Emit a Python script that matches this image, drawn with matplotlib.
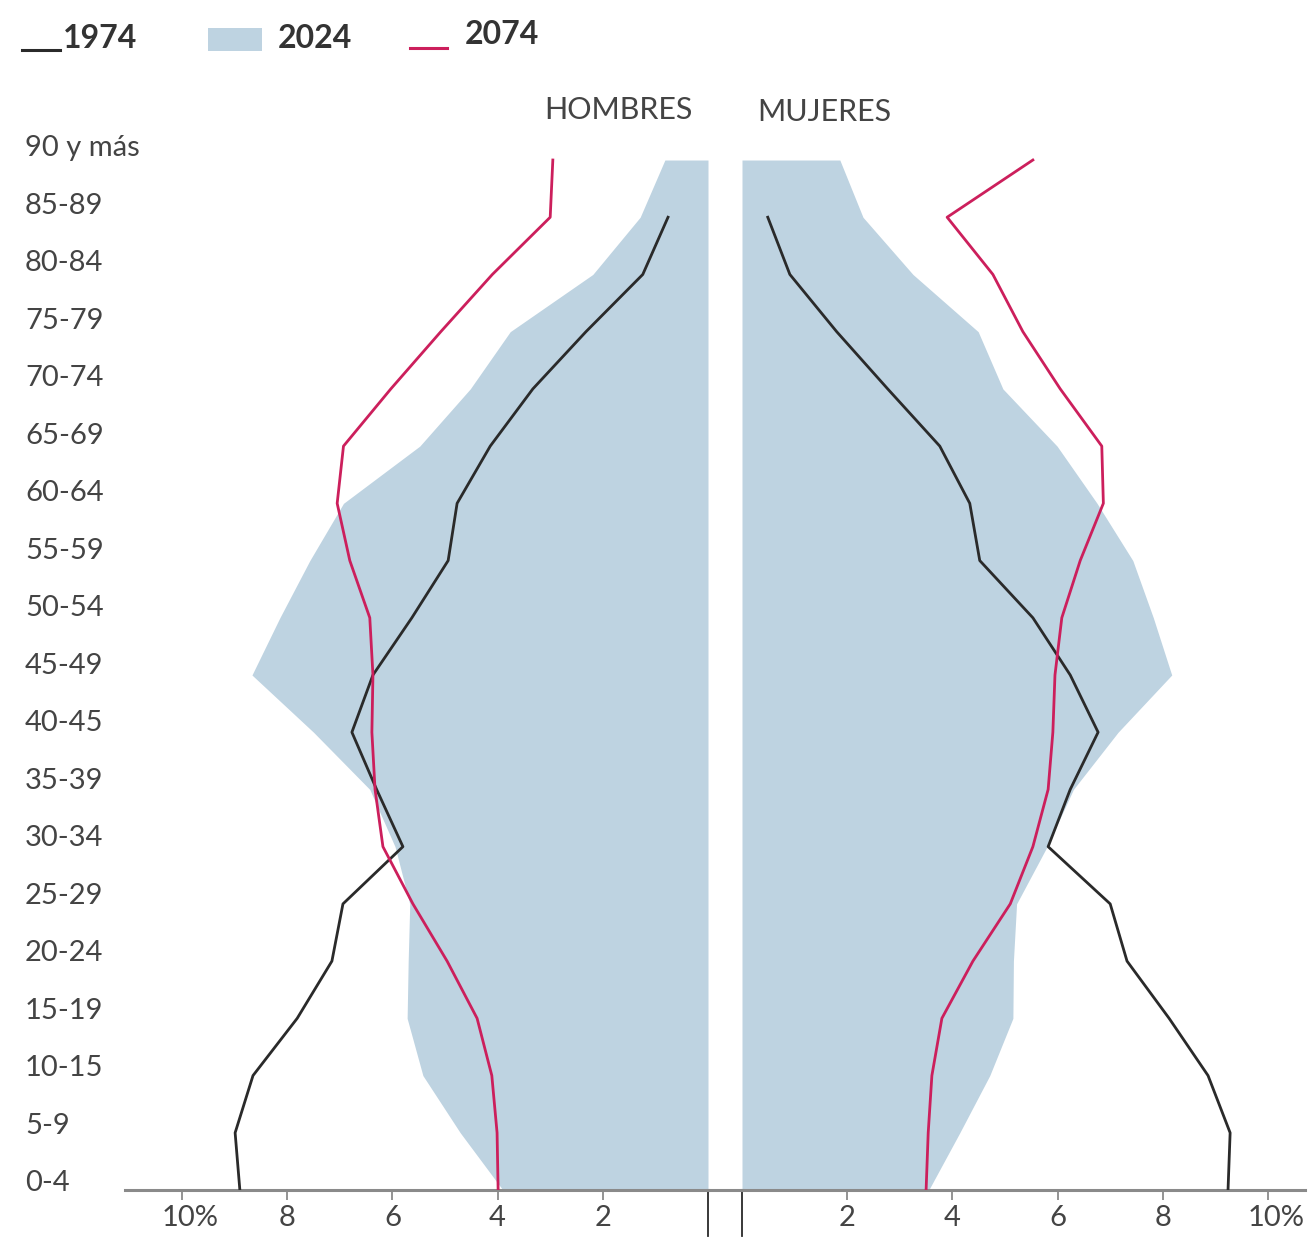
import matplotlib
matplotlib.use("Agg")
import matplotlib.pyplot as plt
import matplotlib.transforms as mtrans
from matplotlib.lines import Line2D
from matplotlib.patches import Rectangle
import numpy as np

plt.rcParams['font.family'] = ['Lato', 'DejaVu Sans']

# grupos de edad, de abajo hacia arriba
edades = ['0-4', '5-9', '10-15', '15-19', '20-24', '25-29', '30-34', '35-39',
          '40-45', '45-49', '50-54', '55-59', '60-64', '65-69', '70-74',
          '75-79', '80-84', '85-89', '90 y más']

# % de la población (1974 llega hasta 85-89)
hombres_1974 = [8.90, 8.99, 8.65, 7.81, 7.15, 6.94, 5.80, 6.30, 6.77, 6.37,
                5.63, 4.94, 4.77, 4.14, 3.33, 2.32, 1.24, 0.76]
mujeres_1974 = [9.24, 9.28, 8.86, 8.12, 7.32, 7.00, 5.82, 6.24, 6.77, 6.24,
                5.53, 4.52, 4.33, 3.76, 2.77, 1.80, 0.91, 0.49]

hombres_2024 = [3.90, 4.71, 5.42, 5.72, 5.70, 5.67, 5.95, 6.43, 7.50, 8.67,
                8.14, 7.57, 6.93, 5.48, 4.52, 3.76, 2.19, 1.29, 0.82]
mujeres_2024 = [3.55, 4.14, 4.71, 5.15, 5.16, 5.22, 5.80, 6.30, 7.15, 8.17,
                7.82, 7.43, 6.75, 5.99, 4.96, 4.49, 3.25, 2.30, 1.86]

hombres_2074 = [3.99, 4.01, 4.11, 4.39, 4.96, 5.61, 6.18, 6.33, 6.39, 6.37,
                6.43, 6.81, 7.05, 6.93, 6.03, 5.08, 4.10, 3.00, 2.95]
mujeres_2074 = [3.50, 3.54, 3.61, 3.80, 4.39, 5.10, 5.53, 5.82, 5.91, 5.95,
                6.08, 6.43, 6.87, 6.84, 6.05, 5.34, 4.77, 3.90, 5.53]

ticks = [2, 4, 6, 8, 10]
tick_labels = ['2', '4', '6', '8', '10%']

azul = '#bed3e1'
negro = '#2a2a2a'
rosa = '#cc1f5c'
gris_txt = '#444444'
gris_eje = '#8a8a8a'

W, H = 1310, 1243
def fx(px):
    return px / W
def fy(py):
    return 1 - py / H

fig = plt.figure(figsize=(W / 100, H / 100), dpi=100)

alto = fy(131.4) - fy(1190)
axL = fig.add_axes([fx(125), fy(1190), fx(708) - fx(125), alto])
axR = fig.add_axes([fx(742), fy(1190), fx(1305) - fx(742), alto])
axL.set_xlim((708 - 125) / 52.6, 0)
axR.set_xlim(0, (1305 - 742) / 52.6)

y = np.arange(len(edades))

for ax, v74, v24, v2074 in [(axL, hombres_1974, hombres_2024, hombres_2074),
                            (axR, mujeres_1974, mujeres_2024, mujeres_2074)]:
    ax.set_ylim(0, 18.5)
    ax.fill_betweenx(y, 0, v24, color=azul, lw=0, zorder=1)
    ax.plot(v74, y[:len(v74)], color=negro, lw=2.0, zorder=3)
    ax.plot(v2074, y, color=rosa, lw=2.0, zorder=3)
    for s in ['top', 'left', 'right']:
        ax.spines[s].set_visible(False)
    ax.spines['bottom'].set_color(gris_eje)
    ax.spines['bottom'].set_linewidth(2.2)
    ax.set_yticks([])
    ax.set_xticks(ticks)
    ax.set_xticklabels([])
    ax.tick_params(axis='x', length=7, width=1.3, color=gris_eje)
    ax.set_facecolor('none')
    # linea vertical en el 0
    ax.plot([0, 0], [0, -0.8], color=negro, lw=1.3, clip_on=False, zorder=4)
    tr = ax.get_xaxis_transform()
    for t, lab in zip(ticks, tick_labels):
        if lab.endswith('%'):
            ax.text(t, -0.026, lab, transform=tr + mtrans.ScaledTranslation(-0.2, 0, fig.dpi_scale_trans),
                    ha='left', va='center', fontsize=21, color=gris_txt)
        else:
            ax.text(t, -0.026, lab, transform=tr, ha='center', va='center',
                    fontsize=21, color=gris_txt)

# eje continuo entre los dos paneles
fig.add_artist(Line2D([fx(708), fx(742)], [fy(1190), fy(1190)], color=gris_eje, lw=2.2))

# etiquetas de edad
trY = mtrans.blended_transform_factory(fig.transFigure, axL.transData)
for i, e in enumerate(edades):
    fig.text(fx(25), i + 0.12 + 0.005 * i, e, transform=trY, ha='left', va='center',
             fontsize=21, color=gris_txt)

fig.text(fx(618), fy(110), 'HOMBRES', ha='center', va='center', fontsize=22, color=gris_txt)
fig.text(fx(824), fy(112), 'MUJERES', ha='center', va='center', fontsize=22, color=gris_txt)

# leyenda
fig.add_artist(Line2D([fx(22), fx(60)], [fy(50), fy(50)], color=negro, lw=2.2))
fig.text(fx(63), fy(38), '1974', ha='left', va='center', fontsize=23, fontweight='bold', color='#333333')
fig.add_artist(Rectangle((fx(208), fy(51)), fx(262) - fx(208), fy(28) - fy(51),
                         transform=fig.transFigure, color=azul, lw=0))
fig.text(fx(278), fy(38), '2024', ha='left', va='center', fontsize=23, fontweight='bold', color='#333333')
fig.add_artist(Line2D([fx(410), fx(447)], [fy(48), fy(48)], color=rosa, lw=2.2))
fig.text(fx(465), fy(35), '2074', ha='left', va='center', fontsize=23, fontweight='bold', color='#333333')

fig.savefig('out.png', dpi=100)
